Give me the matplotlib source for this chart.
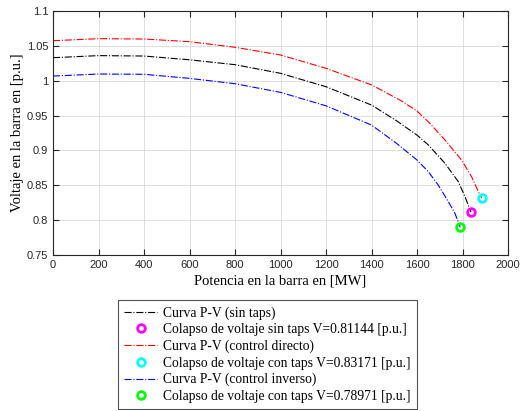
import matplotlib
matplotlib.use("Agg")
import matplotlib.pyplot as plt
from matplotlib.ticker import FuncFormatter

# Data
p_sin = [0, 200, 400, 600, 800, 1000, 1200, 1400, 1510, 1600, 1650, 1723, 1782, 1811, 1837]
v_sin = [1.033, 1.036, 1.0354, 1.030, 1.023, 1.0106, 0.9914, 0.9651, 0.9426, 0.922, 0.9078, 0.8815, 0.855, 0.8336, 0.81144]

p_dir = [0, 200, 400, 600, 800, 1000, 1200, 1400, 1525, 1598, 1650, 1723, 1796, 1840, 1870, 1884]
v_dir = [1.0574, 1.0603, 1.0598, 1.056, 1.048, 1.0369, 1.0178, 0.994, 0.9723, 0.957, 0.941, 0.915, 0.8862, 0.8623, 0.8407, 0.83171]

p_inv = [0, 200, 400, 600, 800, 1000, 1200, 1400, 1510, 1600, 1650, 1694, 1738, 1767, 1790]
v_inv = [1.0067, 1.0096, 1.0092, 1.0034, 0.9957, 0.9833, 0.964, 0.9364, 0.9102, 0.8862, 0.8695, 0.850, 0.8264, 0.8097, 0.78971]

col_sin = (1837, 0.81144)
col_dir = (1884, 0.83171)
col_inv = (1790, 0.78971)

labels = [
    "Curva P-V (sin taps)",
    "Colapso de voltaje sin taps V=0.81144 [p.u.]",
    "Curva P-V (control directo)",
    "Colapso de voltaje con taps V=0.83171 [p.u.]",
    "Curva P-V (control inverso)",
    "Colapso de voltaje con taps V=0.78971 [p.u.]",
]

xticks = list(range(0, 2001, 200))
yticks = [0.75, 0.8, 0.85, 0.9, 0.95, 1.0, 1.05, 1.1]

fig = plt.figure(figsize=(5.21, 4.11), dpi=100)
ax = fig.add_axes([53/521, 1-255/411, (508-53)/521, (255-11)/411])

lw = 0.8
h1, = ax.plot(p_sin, v_sin, '-.', color='black', lw=lw)
h2, = ax.plot([col_sin[0]], [col_sin[1]], 'o', mfc='none', mec='magenta', mew=2, ms=5.5, ls='none')
h3, = ax.plot(p_dir, v_dir, '-.', color='red', lw=lw)
h4, = ax.plot([col_dir[0]], [col_dir[1]], 'o', mfc='none', mec='cyan', mew=2, ms=5.5, ls='none')
h5, = ax.plot(p_inv, v_inv, '-.', color='blue', lw=lw)
h6, = ax.plot([col_inv[0]], [col_inv[1]], 'o', mfc='none', mec=(0, 1, 0), mew=2, ms=5.5, ls='none')

ax.set_xlim(0, 2000)
ax.set_ylim(0.75, 1.1)
ax.set_xticks(xticks)
ax.set_yticks(yticks)
fmt = FuncFormatter(lambda v, pos: ('%g' % round(v, 4)))
ax.xaxis.set_major_formatter(fmt)
ax.yaxis.set_major_formatter(fmt)
ax.grid(True, color=(0.85, 0.85, 0.85), lw=0.6)
ax.set_axisbelow(True)
ax.tick_params(direction='in', top=True, right=True, length=4, width=0.8,
               labelsize=8, colors='#262626', labelcolor='#262626')
for lab in ax.get_xticklabels() + ax.get_yticklabels():
    lab.set_fontfamily('Liberation Sans')
for s in ax.spines.values():
    s.set_color('#262626')
    s.set_linewidth(0.8)

ax.set_xlabel("Potencia en la barra en [MW]", family='Liberation Serif', fontsize=10.5, labelpad=3)
ax.set_ylabel("Voltaje en la barra en [p.u.]", family='Liberation Serif', fontsize=10.5, labelpad=2)

leg = fig.legend([h1, h2, h3, h4, h5, h6], labels,
                 loc='upper left', bbox_to_anchor=(118/521, 1-300/411),
                 prop={'family': 'Liberation Serif', 'size': 9.8},
                 frameon=True, fancybox=False, edgecolor='#262626',
                 handlelength=2.45, handletextpad=0.4, borderpad=0.45,
                 labelspacing=0.255, borderaxespad=0)
leg.get_frame().set_linewidth(0.8)

fig.savefig("out.png", dpi=100)
